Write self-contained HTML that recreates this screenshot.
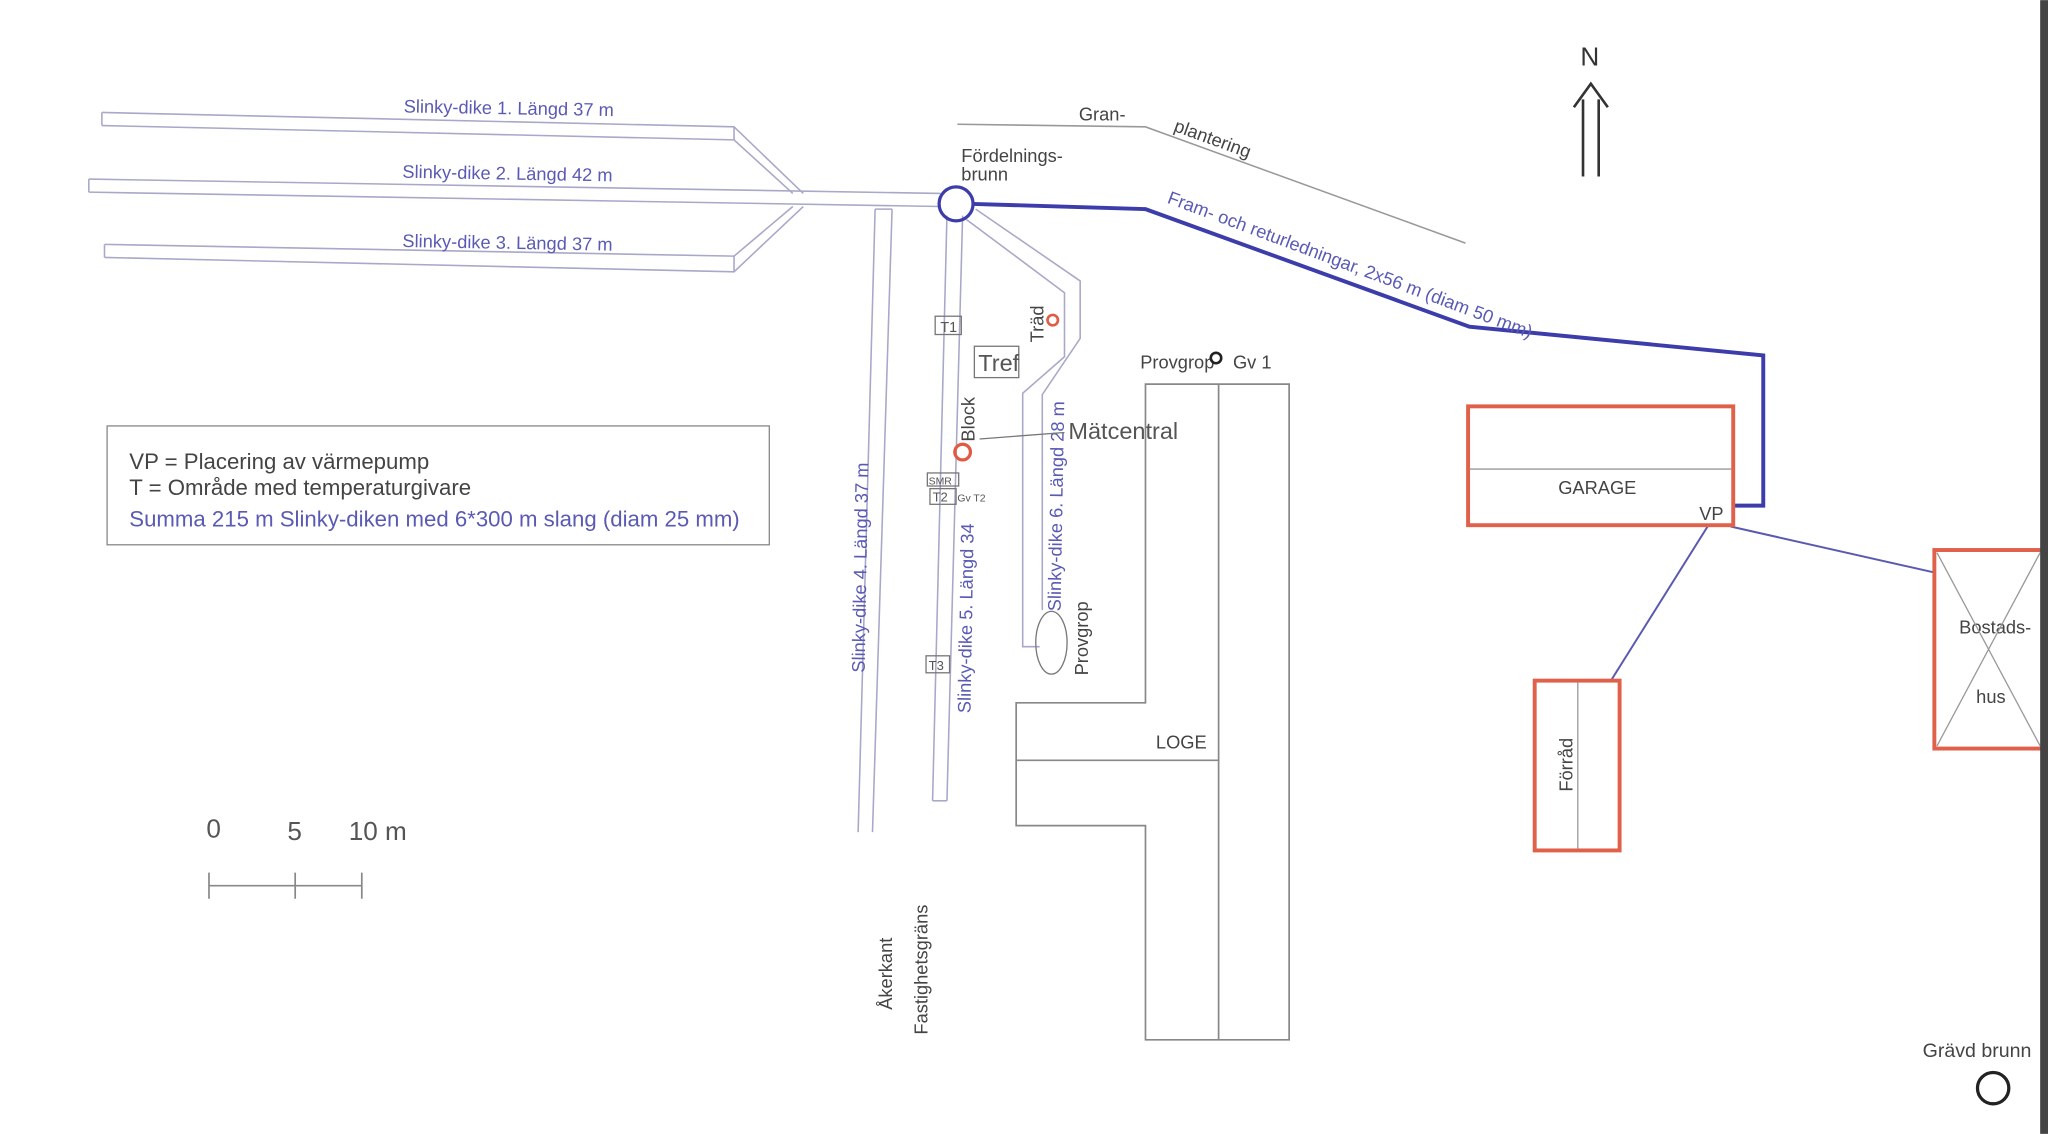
<!DOCTYPE html>
<html><head><meta charset="utf-8"><style>
html,body{margin:0;padding:0;background:#fff;}
svg{display:block;}
text{font-family:"Liberation Sans",sans-serif;}
</style></head><body>
<svg width="2048" height="1134" viewBox="0 0 1568 868" xmlns="http://www.w3.org/2000/svg">
<rect width="1568" height="868" fill="#fff"/>
<g fill="none" stroke="#a8a8c8" stroke-width="1.2">
<!-- slinky 1 -->
<polyline points="78,86 562,97 615,148"/>
<polyline points="78,96 562,107 607,148"/>
<line x1="78" y1="86" x2="78" y2="96"/>
<!-- slinky 2 -->
<polyline points="68,137 720,148"/>
<polyline points="68,147 720,158"/>
<line x1="68" y1="137" x2="68" y2="147"/>
<!-- slinky 3 -->
<polyline points="80,187 562,196 607,158"/>
<polyline points="80,197 562,208 615,158"/>
<line x1="80" y1="187" x2="80" y2="197"/>
<line x1="562" y1="196" x2="562" y2="208"/>
<line x1="562" y1="97" x2="562" y2="107"/>
<!-- slinky 4 -->
<polyline points="670,160 657,637"/>
<polyline points="683,160 668,637"/>
<line x1="670" y1="160" x2="683" y2="160"/>
<!-- slinky 5 -->
<polyline points="725,165 714,613"/>
<polyline points="737,165 725,613"/>
<line x1="714" y1="613" x2="725" y2="613"/>
<!-- slinky 6 -->
<polyline points="740,168 815,224 815,273 783,301 783,495 796,495"/>
<polyline points="747,160 827,215 827,259 798,302 798,467"/>
<!-- gran line -->
<polyline points="733,95 877,97 1122,186" stroke="#999"/>
</g>
<!-- main pipe -->
<polyline points="745,156 877,160 1125,250 1350,272 1350,387 1327,387" fill="none" stroke="#3c3caa" stroke-width="3"/>
<circle cx="732" cy="156" r="13" fill="none" stroke="#3c3caa" stroke-width="2.5"/>
<g fill="none" stroke="#5a5ab0" stroke-width="1.5">
<line x1="1308" y1="402" x2="1234" y2="520"/>
<line x1="1325" y1="403" x2="1480" y2="438"/>
</g>
<!-- N arrow -->
<g fill="none" stroke="#333" stroke-width="2">
<line x1="1212" y1="76" x2="1212" y2="135"/>
<line x1="1224" y1="76" x2="1224" y2="135"/>
<polyline points="1205,82 1218,64 1231,82"/>
</g>
<text x="1210" y="50" font-size="20" fill="#333">N</text>
<!-- slinky labels -->
<g fill="#5a5ab4" font-size="14">
<text x="309" y="86" transform="rotate(1 309 86)">Slinky-dike 1. Längd 37 m</text>
<text x="308" y="136" transform="rotate(1 308 136)">Slinky-dike 2. Längd 42 m</text>
<text x="308" y="189" transform="rotate(1 308 189)">Slinky-dike 3. Längd 37 m</text>
<text x="893" y="155" transform="rotate(20.5 893 155)">Fram- och returledningar, 2x56 m (diam 50 mm)</text>
<text transform="translate(662,515) rotate(-89)">Slinky-dike 4. Längd 37 m</text>
<text transform="translate(743,546) rotate(-89)">Slinky-dike 5. Längd 34</text>
<text transform="translate(812,468) rotate(-89)">Slinky-dike 6. Längd 28 m</text>
</g>
<g fill="#444" font-size="14">
<text x="826" y="92">Gran-</text>
<text x="898" y="100" transform="rotate(20 898 100)">plantering</text>
<text x="736" y="124">Fördelnings-</text>
<text x="736" y="138">brunn</text>
<text transform="translate(799,262) rotate(-90)">Träd</text>
<text transform="translate(746,338) rotate(-90)">Block</text>
<text transform="translate(833,517) rotate(-90)">Provgrop</text>
<text x="873" y="282">Provgrop</text>
<text x="944" y="282">Gv 1</text>
<text x="885" y="573">LOGE</text>
<text x="1193" y="378">GARAGE</text>
<text x="1301" y="398">VP</text>
<text transform="translate(1204,606) rotate(-90)">Förråd</text>
<text x="1500" y="485">Bostads-</text>
<text x="1513" y="538">hus</text>
<text x="1472" y="809" font-size="15">Grävd brunn</text>
<text transform="translate(683,773) rotate(-90)">Åkerkant</text>
<text transform="translate(710,792) rotate(-90)">Fastighetsgräns</text>
</g>
<!-- small boxes -->
<g fill="none" stroke="#777" stroke-width="1">
<rect x="716" y="242" width="20" height="14"/>
<rect x="746" y="265" width="34" height="24"/>
<rect x="710" y="362" width="24" height="10"/>
<rect x="712" y="374" width="20" height="12"/>
<rect x="709" y="502" width="18" height="13"/>
<polyline points="750,336 815,331"/>
<ellipse cx="805" cy="492" rx="12" ry="24"/>
</g>
<g fill="#555">
<text x="720" y="254" font-size="11">T1</text>
<text x="749" y="284" font-size="18">Tref</text>
<text x="711" y="371" font-size="8">SMR</text>
<text x="714" y="384" font-size="10">T2</text>
<text x="733" y="384" font-size="8">Gv T2</text>
<text x="711" y="513" font-size="10">T3</text>
<text x="818" y="336" font-size="18">Mätcentral</text>
</g>
<circle cx="806" cy="245" r="4" fill="none" stroke="#e05a44" stroke-width="2"/>
<circle cx="737" cy="346" r="6" fill="none" stroke="#e05a44" stroke-width="2.5"/>
<circle cx="931" cy="274" r="4" fill="none" stroke="#222" stroke-width="2"/>
<!-- LOGE -->
<g fill="none" stroke="#888" stroke-width="1.3">
<polygon points="877,294 987,294 987,796 877,796 877,632 778,632 778,538 877,538"/>
<line x1="933" y1="294" x2="933" y2="796"/>
<line x1="778" y1="582" x2="933" y2="582"/>
</g>
<!-- red buildings -->
<g fill="none" stroke="#e0604a" stroke-width="3">
<rect x="1124" y="311" width="203" height="91"/>
<rect x="1175" y="521" width="65" height="130"/>
<rect x="1481" y="421" width="90" height="152"/>
</g>
<g stroke="#999" stroke-width="1">
<line x1="1125" y1="359" x2="1326" y2="359"/>
<line x1="1208" y1="522" x2="1208" y2="650"/>
<line x1="1483" y1="423" x2="1562" y2="571"/>
<line x1="1562" y1="423" x2="1483" y2="571"/>
</g>
<rect x="1562" y="0" width="6" height="868" fill="#444"/>
<circle cx="1526" cy="833" r="12" fill="none" stroke="#222" stroke-width="2.5"/>
<!-- legend -->
<rect x="82" y="326" width="507" height="91" fill="none" stroke="#888" stroke-width="1"/>
<text x="99" y="359" font-size="17" fill="#444">VP = Placering av värmepump</text>
<text x="99" y="379" font-size="17" fill="#444">T = Område med temperaturgivare</text>
<text x="99" y="403" font-size="17" fill="#5a5ab4">Summa 215 m Slinky-diken med 6*300 m slang (diam 25 mm)</text>
<!-- scale -->
<g fill="#555" font-size="20">
<text x="158" y="641">0</text>
<text x="220" y="643">5</text>
<text x="267" y="643">10 m</text>
</g>
<g stroke="#888" stroke-width="1.3">
<line x1="160" y1="678" x2="277" y2="678"/>
<line x1="160" y1="668" x2="160" y2="688"/>
<line x1="226" y1="668" x2="226" y2="688"/>
<line x1="277" y1="668" x2="277" y2="688"/>
</g>
</svg>
</body></html>
